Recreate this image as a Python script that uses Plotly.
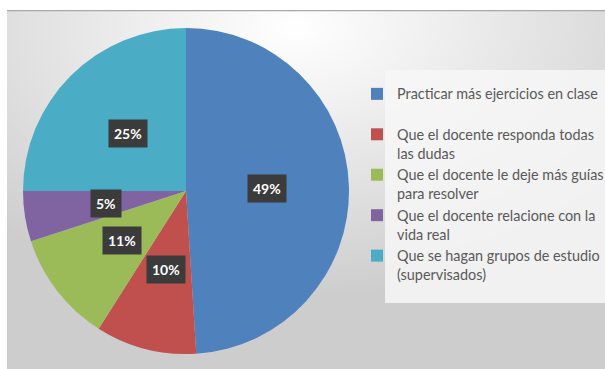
import base64
import math
import plotly.graph_objects as go

labels = [
    "Practicar más ejercicios en clase<br>\u00a0",
    "Que el docente responda todas<br>las dudas",
    "Que el docente le deje más guías<br>para resolver",
    "Que el docente relacione con la<br>vida real",
    "Que se hagan grupos de estudio<br>(supervisados)",
]
values = [49, 10, 11, 5, 25]
colors = ["#4f81bd", "#c0504d", "#9bbb59", "#8064a2", "#4bacc6"]

W, H = 605, 369
# pie geometry (pixels)
PCX, PCY, PR = 186, 191, 163
dom_x = [(PCX - PR) / W, (PCX + PR) / W]
dom_y = [1 - (PCY + PR) / H, 1 - (PCY - PR) / H]

svg = """<svg xmlns='http://www.w3.org/2000/svg' width='598' height='359'>
<defs><radialGradient id='g' cx='48%' cy='5%' r='75%' fx='48%' fy='5%'>
<stop offset='0%' stop-color='#ffffff'/><stop offset='100%' stop-color='#cdcdcd'/>
</radialGradient></defs>
<rect width='598' height='359' fill='url(#g)'/>
<line x1='0' y1='0.5' x2='598' y2='0.5' stroke='#a8a8a8' stroke-width='1.5'/>
</svg>"""
src = "data:image/svg+xml;base64," + base64.b64encode(svg.encode()).decode()

fig = go.Figure()
fig.add_trace(go.Pie(
    labels=labels, values=values, sort=False, direction="clockwise", rotation=0,
    marker=dict(colors=colors, line=dict(width=0)),
    textinfo="none", hoverinfo="skip",
    domain=dict(x=dom_x, y=dom_y),
))

total = sum(values)
cum = 0
for v in values:
    th = math.radians((cum + v / 2) / total * 360)
    cum += v
    px = PCX + 0.5 * PR * math.sin(th)
    py = PCY - 0.5 * PR * math.cos(th)
    fig.add_annotation(
        x=px / W, y=1 - py / H, xref="paper", yref="paper",
        xanchor="center", yanchor="middle",
        text=f"<b>{round(v / total * 100)}%</b>", showarrow=False,
        font=dict(family="Lato", size=14, color="white"),
        bgcolor="#3b3b3b", borderpad=5,
    )

fig.add_layout_image(
    source=src, xref="paper", yref="paper", x=7 / W, y=1 - 10 / H,
    sizex=598 / W, sizey=359 / H, xanchor="left", yanchor="top",
    sizing="stretch", layer="below",
)

fig.add_shape(
    type="rect", xref="paper", yref="paper",
    x0=385 / W, x1=1, y0=1 - 303 / H, y1=1 - 70 / H,
    fillcolor="rgba(247,247,247,0.85)", line=dict(width=0), layer="below",
)

fig.update_layout(
    width=W, height=H, margin=dict(l=0, r=0, t=0, b=0, autoexpand=False),
    paper_bgcolor="white", plot_bgcolor="rgba(0,0,0,0)",
    showlegend=True,
    legend=dict(
        x=357 / W, y=1 - 78 / H, xanchor="left", yanchor="top",
        bgcolor="rgba(0,0,0,0)", valign="top",
        font=dict(family="Lato", size=14.4, color="#595959"),
        traceorder="normal",
    ),
)
fig.write_html("out.html")
